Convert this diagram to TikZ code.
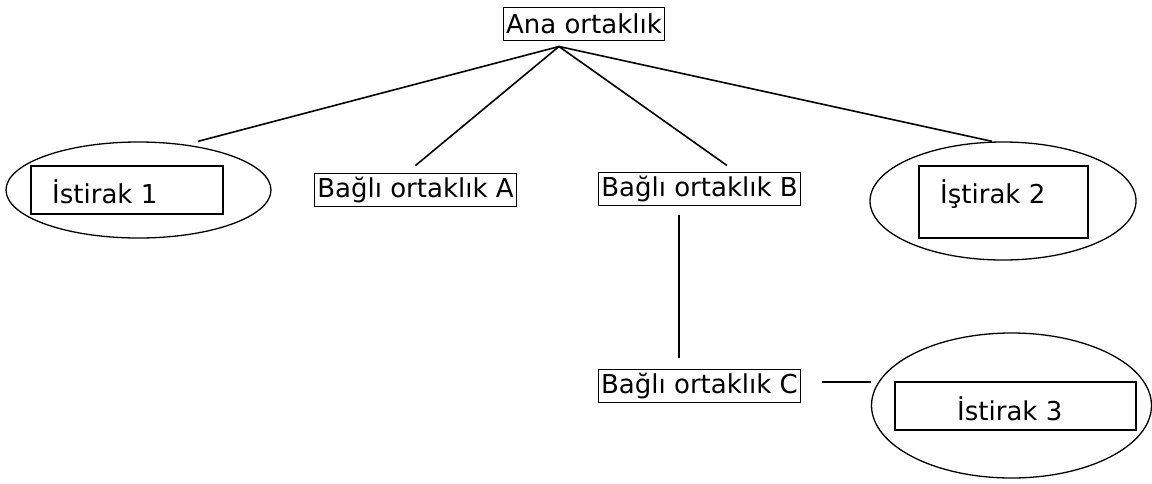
\documentclass[tikz,border=0pt]{standalone}
\usepackage{fontspec}
\setmainfont{DejaVu Sans}
\usetikzlibrary{shapes.geometric,calc}
\begin{document}
\begin{tikzpicture}[x=1pt,y=-1pt,
  lab/.style={draw,line width=1pt,rectangle,inner xsep=2.5pt,inner ysep=0pt,minimum height=33pt,font=\fontsize{26}{30}\selectfont},
  frame/.style={draw,line width=1.1pt,rectangle,inner sep=0pt},
  oval/.style={draw,ellipse,line width=1.3pt,inner sep=0pt},
  txt/.style={font=\fontsize{26}{30}\selectfont,inner sep=0pt,anchor=base west},
  conn/.style={line width=1.6pt}]
\useasboundingbox (0,0) rectangle (1152,483);

% main boxes
\node[lab] (ana) at (584,23.5) {Ana ortaklık};
\node[lab] (A) at (415.5,189.5) {Bağlı ortaklık A};
\node[lab] (B) at (699.5,189) {Bağlı ortaklık B};
\node[lab] (C) at (699.5,385.5) {Bağlı ortaklık C};

% associates
\node[oval,minimum width=265pt,minimum height=96pt] (e1) at (138.5,190) {};
\node[frame,minimum width=192pt,minimum height=48pt] (r1) at (127,190) {};
\node[txt] (t1) at (52,203) {İstirak 1};

\node[oval,minimum width=266pt,minimum height=118pt] (e2) at (1003,201) {};
\node[frame,minimum width=169pt,minimum height=72pt] (r2) at (1003.5,202) {};
\node[txt] (t2) at (940,203) {İştirak 2};

\node[oval,minimum width=280pt,minimum height=145pt] (e3) at (1011.5,405.5) {};
\node[frame,minimum width=241pt,minimum height=48pt] (r3) at (1015.5,406) {};
\node[txt] (t3) at (957,420) {İstirak 3};

% connectors
\coordinate (apex) at ($(ana.south)+(-25,6)$);
\draw[conn] (apex) -- ($(e1.north)+(59.5,0)$);
\draw[conn] (apex) -- ($(A.north)+(0,-7)$);
\draw[conn] (apex) -- ($(B.north)+(27.5,-6.5)$);
\draw[conn] (apex) -- ($(e2.north)+(-11,0)$);
\draw[conn] ($(B.south)+(-20.5,8.5)$) -- ($(C.north)+(-20.5,-11)$);
\draw[conn] ($(C.east)+(21,-3.5)$) -- ($(e3.west)+(0,-23.5)$);
\end{tikzpicture}
\end{document}
